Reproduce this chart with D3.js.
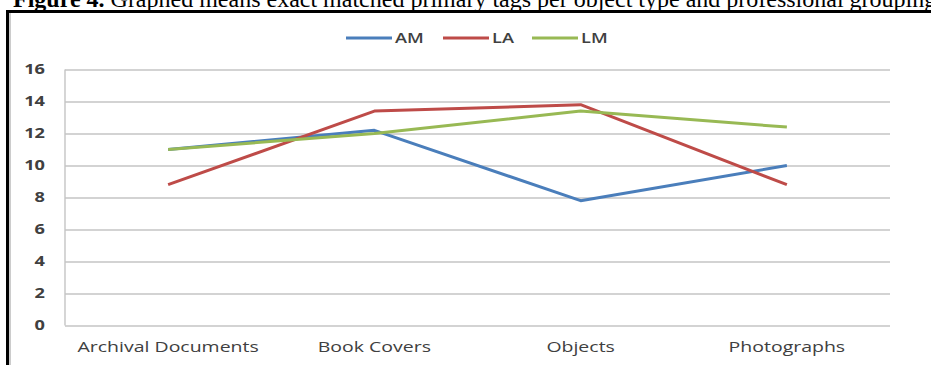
<!DOCTYPE html>
<html>
<head>
<meta charset="utf-8">
<script src="https://cdn.jsdelivr.net/npm/d3@7"></script>
<style>
  html, body { margin: 0; padding: 0; background: #fff; }
  svg { display: block; }
</style>
</head>
<body>
<svg id="chart" width="931" height="365"></svg>
<script>
// Mean exact matched primary tags, by object type and professional grouping
const categories = ["Archival Documents", "Book Covers", "Objects", "Photographs"];
const seriesNames = ["AM", "LA", "LM"];
const amValues = [11.0, 12.2, 7.8, 10.0];
const laValues = [8.8, 13.4, 13.8, 8.8];
const lmValues = [11.0, 12.0, 13.4, 12.4];
const yTicks = [0, 2, 4, 6, 8, 10, 12, 14, 16];
const caption = "Graphed means exact matched primary tags per object type and professional grouping";

const series = [
  { name: seriesNames[0], values: amValues, color: "#4a7ebb" },
  { name: seriesNames[1], values: laValues, color: "#be4b48" },
  { name: seriesNames[2], values: lmValues, color: "#98b954" }
];

const svg = d3.select("#chart");
const plot = { left: 65, right: 890, top: 69.5, bottom: 325.5 };
const stretch = 1.3;           // chart text is set slightly wide
const sans = "'Open Sans', sans-serif";

// Widen a text element horizontally about its own anchor point
function widen(sel) {
  sel.each(function () {
    const t = d3.select(this);
    const tx = +t.attr("x") || 0;
    t.attr("x", 0).attr("transform", `translate(${tx},0) scale(${stretch},1)`);
  });
}

// Figure caption, Times-style serif
const cap = svg.append("text")
  .attr("x", 13).attr("y", 7)
  .attr("font-family", "'Liberation Serif', 'Times New Roman', serif")
  .attr("font-size", 24)
  .attr("fill", "#000");
cap.append("tspan").attr("font-weight", "bold").text("Figure 4.");
cap.append("tspan").text(" " + caption);

const x = d3.scaleBand().domain(categories).range([plot.left, plot.right]);
const y = d3.scaleLinear().domain([0, 16]).range([plot.bottom, plot.top]);

// Horizontal gridlines and value labels
const yAxis = d3.axisLeft(y).tickValues(yTicks).tickSize(-(plot.right - plot.left)).tickPadding(20);
const gy = svg.append("g").attr("transform", `translate(${plot.left},0)`).call(yAxis);
gy.select(".domain").remove();
gy.selectAll(".tick line").attr("stroke", "#c4c4c4").attr("stroke-width", 1.4);
gy.selectAll(".tick text")
  .attr("font-family", sans)
  .attr("font-size", 14)
  .attr("font-weight", 700)
  .attr("fill", "#404040")
  .call(widen);

// Vertical axis line
svg.append("line")
  .attr("x1", plot.left).attr("x2", plot.left)
  .attr("y1", plot.top).attr("y2", plot.bottom)
  .attr("stroke", "#c4c4c4").attr("stroke-width", 1.4);

// Category labels
const xAxis = d3.axisBottom(x).tickSize(0).tickPadding(16);
const gx = svg.append("g").attr("transform", `translate(0,${plot.bottom})`).call(xAxis);
gx.select(".domain").remove();
gx.selectAll(".tick text")
  .attr("font-family", sans)
  .attr("font-size", 15)
  .attr("font-weight", 500)
  .attr("fill", "#404040")
  .call(widen);

// Series lines
const line = d3.line()
  .x((d, i) => x(categories[i]) + x.bandwidth() / 2)
  .y(d => y(d));

svg.append("g").selectAll("path")
  .data(series)
  .join("path")
  .attr("d", s => line(s.values))
  .attr("fill", "none")
  .attr("stroke", s => s.color)
  .attr("stroke-width", 3)
  .attr("stroke-linejoin", "round");

// Legend
const legendX = [346, 443, 532];
const legend = svg.append("g");
series.forEach((s, i) => {
  const g = legend.append("g").attr("transform", `translate(${legendX[i]},38)`);
  g.append("line").attr("x1", 0).attr("x2", 46).attr("y1", 0).attr("y2", 0)
    .attr("stroke", s.color).attr("stroke-width", 3);
  g.append("text").attr("x", 49).attr("y", 0).attr("dy", "0.35em")
    .attr("font-family", sans)
    .attr("font-size", 14).attr("font-weight", 600)
    .attr("fill", "#404040")
    .text(s.name)
    .call(widen);
});

// Frame around the chart
svg.append("rect")
  .attr("x", 7.5).attr("y", 11.5)
  .attr("width", 940).attr("height", 400)
  .attr("fill", "none")
  .attr("stroke", "#000")
  .attr("stroke-width", 3);
svg.append("line")
  .attr("x1", 10).attr("x2", 10).attr("y1", 13).attr("y2", 365)
  .attr("stroke", "#9a9a9a").attr("stroke-width", 1);
</script>
</body>
</html>
